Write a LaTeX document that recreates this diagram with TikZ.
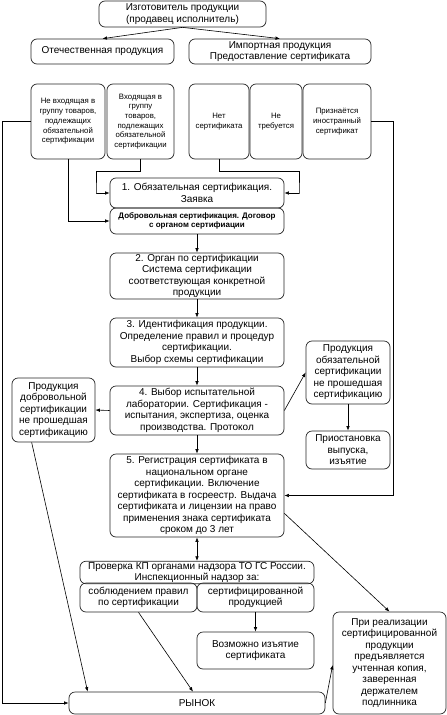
\documentclass[tikz,border=0pt]{standalone}
\usepackage{fontspec}
\setmainfont{Liberation Sans}
\usetikzlibrary{arrows.meta,calc}
\begin{document}
\begin{tikzpicture}[x=1pt,y=-1pt,
 box/.style={draw=black!85, line width=0.7pt, rounded corners=6pt, align=center, inner sep=1pt, font=\fontsize{10}{11.5}\selectfont},
 sbox/.style={box, font=\fontsize{7.8}{9.7}\selectfont},
 bbox/.style={box, font=\fontsize{8}{9.6}\selectfont\bfseries},
 arr/.style={-{Latex[length=4.5pt,width=3.5pt]}, line width=0.6pt},
 darr/.style={{Latex[length=4.5pt,width=3.5pt]}-{Latex[length=4.5pt,width=3.5pt]}, line width=0.6pt},
 ln/.style={line width=0.6pt}]
\useasboundingbox (0,0) rectangle (447,715);
\node[box, minimum width=167pt, minimum height=26pt] (top) at (182.5,14) {Изготовитель продукции\\(продавец исполнитель)};
\node[box, minimum width=143pt, minimum height=25pt] (otech) at (102.5,51.5) {Отечественная продукция};
\node[box, minimum width=182pt, minimum height=25pt] (imp) at (280,51.5) {Импортная продукция\\Предоставление сертификата};
\node[sbox, minimum width=74pt, minimum height=75pt] (A) at (68,121.5) {Не входящая в\\группу товаров,\\подлежащих\\обязательной\\сертификации};
\node[sbox, minimum width=67pt, minimum height=75pt] (B) at (140.5,121.5) {Входящая в\\группу\\товаров,\\подлежащих\\обязательной\\сертификации};
\node[sbox, minimum width=60pt, minimum height=75pt] (C) at (219,121.5) {Нет\\сертификата};
\node[sbox, minimum width=52pt, minimum height=75pt] (D) at (276,121.5) {Не\\требуется};
\node[sbox, minimum width=68pt, minimum height=75pt] (E) at (337,121.5) {Признаётся\\иностранный\\сертификат};
\node[box, minimum width=174pt, minimum height=30pt] (n1) at (197,193) {1. Обязательная сертификация.\\Заявка};
\node[bbox, minimum width=174pt, minimum height=26pt] (vol) at (197,221) {Добровольная сертификация. Договор\\с органом сертифиации};
\node[box, minimum width=174pt, minimum height=46pt] (n2) at (197,276) {2. Орган по сертификации\\Система сертификации\\соответствующая конкретной\\продукции};
\node[box, minimum width=174pt, minimum height=49pt] (n3) at (197,342.5) {3. Идентификация продукции.\\Определение правил и процедур\\сертификации.\\Выбор схемы сертификации};
\node[box, minimum width=174pt, minimum height=49pt] (n4) at (197,410.5) {4. Выбор испытательной\\лаборатории. Сертификация -\\испытания, экспертиза, оценка\\производства. Протокол};
\node[box, minimum width=174pt, minimum height=83pt] (n5) at (197,495.5) {5. Регистрация сертификата в\\национальном органе\\сертификации. Включение\\сертификата в госреестр. Выдача\\сертификата и лицензии на право\\применения знака сертификата\\сроком до 3 лет};
\node[box, minimum width=84pt, minimum height=63pt] (obl) at (348,372.5) {Продукция\\обязательной\\сертификации\\не прошедшая\\сертификацию};
\node[box, minimum width=84pt, minimum height=38pt] (stop) at (348,450) {Приостановка\\выпуска,\\изъятие};
\node[box, minimum width=83pt, minimum height=64pt] (vfail) at (53.5,410) {Продукция\\добровольной\\сертификации\\не прошедшая\\сертификацию};
\node[box, minimum width=234pt, minimum height=21pt] (prov) at (197,572.5) {Проверка КП органами надзора ТО ГС России.\\Инспекционный надзор за:};
\node[box, minimum width=117pt, minimum height=29pt] (sobl) at (138.5,597.5) {соблюдением правил\\по сертификации};
\node[box, minimum width=117pt, minimum height=29pt] (sertp) at (255.5,597.5) {сертифицированной\\продукцией};
\node[box, minimum width=117pt, minimum height=37pt] (vozm) at (255.5,650.5) {Возможно изъятие\\сертификата};
\node[box, minimum width=256pt, minimum height=22pt] (rynok) at (197,703) {РЫНОК};
\node[box, minimum width=113pt, minimum height=102pt] (pri) at (389.5,663) {При реализации\\сертифицированной\\продукции\\предъявляется\\учтенная копия,\\заверенная\\держателем\\подлинника};
% connectors
\draw[arr] (top.south) -- (otech.north);
\draw[arr] (top.south) -- (imp.north);
\draw[arr] (A.west) -- ++(-28,0) |- (rynok.west);
\draw[arr] (E.east) -- ++(22,0) |- (n5.east);
\draw[arr] (A.south) |- (vol.west);
\draw[arr] (B.south) -- ++(0,12) -| ++(-44.5,22) |- (n1.west);
\draw[arr] (C.south) -- ++(0,12) -| ++(80,22) |- (n1.east);
\draw[arr] (vol.south) -- (n2.north);
\draw[arr] (n2.south) -- (n3.north);
\draw[arr] (n3.south) -- (n4.north);
\draw[arr] (n4.south) -- (n5.north);
\draw[arr] (n4.west) -- (vfail.east);
\draw[arr] (n4.east) -- (obl.west);
\draw[arr] (obl.south) -- (stop.north);
\draw[arr] ([xshift=20pt]vfail.south west) -- ([xshift=19pt]rynok.north west);
\draw[darr] (n5.south) -- (prov.north);
\draw[arr] (sertp.south) -- (vozm.north);
\draw[arr] (sobl.south) -- ([xshift=-4pt]rynok.north);
\draw[arr] ([yshift=24pt]n5.south east) -- (pri.north);
\draw[arr] (rynok.east) -- ([yshift=-2pt]pri.west);
\end{tikzpicture}
\end{document}
